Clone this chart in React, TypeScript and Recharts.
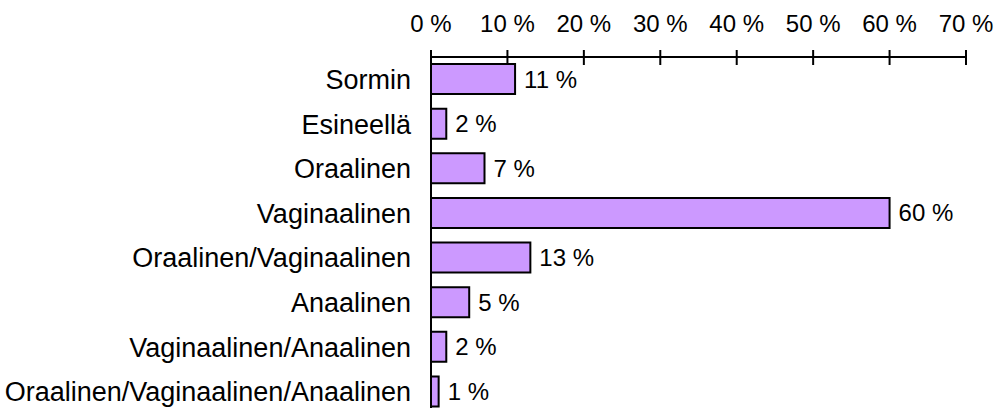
import { BarChart, Bar, XAxis, YAxis, LabelList } from "recharts";

const categories = [
  "Sormin",
  "Esineellä",
  "Oraalinen",
  "Vaginaalinen",
  "Oraalinen/Vaginaalinen",
  "Anaalinen",
  "Vaginaalinen/Anaalinen",
  "Oraalinen/Vaginaalinen/Anaalinen",
];
const shares = [11, 2, 7, 60, 13, 5, 2, 1];
const xTicks = [0, 10, 20, 30, 40, 50, 60, 70];

const data = categories.map((name, i) => ({ name, value: shares[i] }));

const font = "'Liberation Sans', Arial, sans-serif";

function TopTick(props: any) {
  const { x, y, payload } = props;
  return (
    <g>
      <line x1={x} x2={x} y1={y - 7} y2={y + 8} stroke="#000" strokeWidth={2} />
      <text x={x} y={y - 25} textAnchor="middle" fontSize={24} fontFamily={font} fill="#000">
        {`${payload.value} %`}
      </text>
    </g>
  );
}

export default function App() {
  return (
    <div style={{ position: "absolute", left: 0, top: 0, width: 996, height: 408, overflow: "hidden", background: "#fff" }}>
      <BarChart
        width={996}
        height={416}
        data={data}
        layout="vertical"
        margin={{ top: 0, right: 30, left: 0, bottom: 2 }}
        barCategoryGap={14}
      >
        <XAxis
          type="number"
          orientation="top"
          domain={[0, 70]}
          ticks={xTicks}
          height={57}
          tickSize={0}
          tickMargin={0}
          tickLine={false}
          axisLine={{ stroke: "#000", strokeWidth: 2 }}
          tick={<TopTick />}
          interval={0}
        />
        <YAxis
          type="category"
          dataKey="name"
          width={431}
          tickLine={false}
          tickSize={0}
          tickMargin={20}
          axisLine={{ stroke: "#000", strokeWidth: 2 }}
          tick={{ fill: "#000", fontSize: 27, fontFamily: font }}
          interval={0}
        />
        <Bar dataKey="value" fill="#CC99FF" stroke="#000" strokeWidth={2} barSize={30} isAnimationActive={false}>
          <LabelList
            dataKey="value"
            position="right"
            offset={9}
            formatter={(v: any) => `${v} %`}
            fill="#000"
            fontSize={24}
            fontFamily={font}
          />
        </Bar>
      </BarChart>
    </div>
  );
}
